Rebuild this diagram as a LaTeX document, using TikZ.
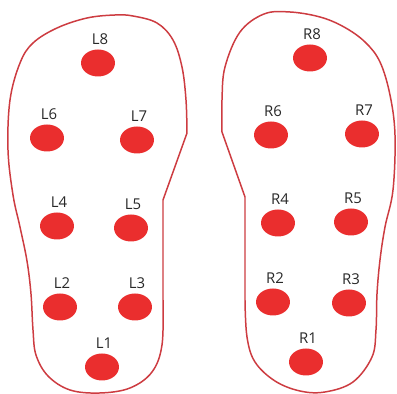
\documentclass[tikz,border=0pt]{standalone}
\usepackage{fontspec}
\setmainfont{Open Sans}
\usetikzlibrary{shapes.geometric, positioning}

\definecolor{solered}{RGB}{205,60,65}
\definecolor{dotred}{RGB}{234,46,46}
\definecolor{tagtext}{RGB}{40,40,40}

\begin{document}
\begin{tikzpicture}[
    x=0.02cm, y=-0.02cm,
    node distance=0.8mm,
    sole/.style={draw=solered, line width=0.85pt, line join=round},
    sensor/.style={ellipse, fill=dotred, draw=none, inner sep=0pt, minimum width=0.68cm, minimum height=0.54cm},
    tag/.style={inner sep=0pt, text=tagtext, font=\fontsize{8.5}{10}\selectfont, xshift=1.2pt}
]
\useasboundingbox (0,0) rectangle (397,394);

% Outlines
\draw [sole] plot[smooth, tension=0.6] coordinates {(163,300) (162,345) (152,372) (130,388) (100,393) (70,390) (48,376) (36,355) (33,330) (31,294) (27,261) (20,227) (13,195) (8,150) (10,100) (20,63) (33,43) (57,28) (87,18) (115,15) (133,16) (157,23) (173,40) (182,67) (186,100) (187,133)} -- (163,200) -- cycle;
\draw [sole] plot[smooth, tension=0.6] coordinates {(222,132) (222,100) (225,67) (240,32) (264,14) (290,12) (320,17) (344,27) (365,42) (380,62) (390,95) (395,135) (393,190) (385,227) (380,260) (377,294) (376,330) (372,357) (353,382) (325,392) (300,391) (275,381) (255,362) (247,337) (245,300)} -- (245,197) -- cycle;

% Left sensors
\node (L8) [sensor] at (98,63) {};
\node (L6) [sensor] at (47,138) {};
\node (L7) [sensor] at (137,140) {};
\node (L4) [sensor] at (57,226) {};
\node (L5) [sensor] at (131,228) {};
\node (L2) [sensor] at (60,307) {};
\node (L3) [sensor] at (135,307) {};
\node (L1) [sensor] at (102,367) {};

% Right sensors
\node (R8) [sensor] at (310,58) {};
\node (R6) [sensor] at (271,135) {};
\node (R7) [sensor] at (362,134) {};
\node (R4) [sensor] at (278,223) {};
\node (R5) [sensor] at (351,222) {};
\node (R2) [sensor] at (273,302) {};
\node (R3) [sensor] at (349,303) {};
\node (R1) [sensor] at (306,362) {};

% Labels
\node (L8tag) [tag, above=of L8] {L8};
\node (L6tag) [tag, above=of L6] {L6};
\node (L7tag) [tag, above=of L7] {L7};
\node (L4tag) [tag, above=of L4] {L4};
\node (L5tag) [tag, above=of L5] {L5};
\node (L2tag) [tag, above=of L2] {L2};
\node (L3tag) [tag, above=of L3] {L3};
\node (L1tag) [tag, above=of L1] {L1};

\node (R8tag) [tag, above=of R8] {R8};
\node (R6tag) [tag, above=of R6] {R6};
\node (R7tag) [tag, above=of R7] {R7};
\node (R4tag) [tag, above=of R4] {R4};
\node (R5tag) [tag, above=of R5] {R5};
\node (R2tag) [tag, above=of R2] {R2};
\node (R3tag) [tag, above=of R3] {R3};
\node (R1tag) [tag, above=of R1] {R1};

\end{tikzpicture}
\end{document}
